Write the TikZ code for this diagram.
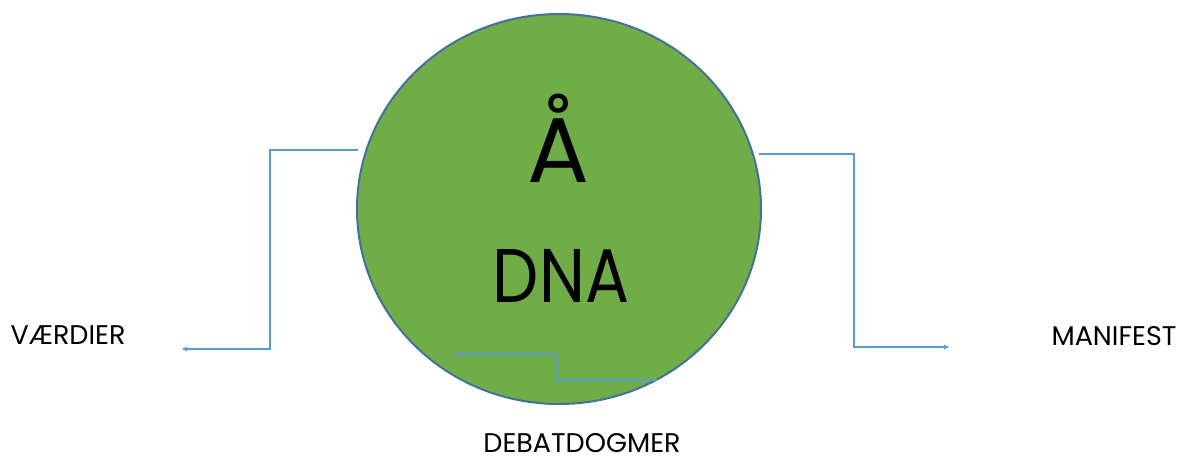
\documentclass[tikz,border=0pt]{standalone}
\usepackage{fontspec}
\setmainfont{Poppins}
\usetikzlibrary{shapes.geometric,arrows.meta}
\definecolor{dnagreen}{HTML}{70AD47}
\definecolor{dnaborder}{HTML}{41719C}
\definecolor{linkblue}{HTML}{5B9BD5}
\begin{document}
\begin{tikzpicture}[x=1pt,y=-1pt,
  link/.style={draw=linkblue, line width=1.2pt, -{Latex[length=6pt,width=5pt]}},
  lbl/.style={inner sep=0pt, anchor=base, font=\fontsize{27}{29}\selectfont}]
\useasboundingbox (0,0) rectangle (1177,455);
\node[ellipse, fill=dnagreen, draw=dnaborder, line width=2pt, minimum width=404, minimum height=390, inner sep=0pt] (dna) at (559,209){};
\node[inner sep=0pt, anchor=base, font=\fontsize{92}{96}\selectfont] (aa) at (558,182){Å};
\node[inner sep=0pt, anchor=base, font=\fontsize{76}{80}\selectfont] (dnatxt) at (561,302){\scalebox{0.86}[1]{DNA}};
\node[lbl] (vaerdier) at (68,344){VÆRDIER};
\node[lbl] (manifest) at (1114,345){MANIFEST};
\node[lbl] (dogmer) at (582,452){DEBATDOGMER};
\coordinate (l0) at (358,150);
\coordinate (l1) at (270,150);
\coordinate (l2) at (270,349);
\coordinate (l3) at (181,349);
\coordinate (r0) at (759,154);
\coordinate (r1) at (854,154);
\coordinate (r2) at (854,347);
\coordinate (r3) at (950,347);
\coordinate (b0) at (453,354);
\coordinate (b1) at (556,354);
\coordinate (b2) at (556,380);
\coordinate (b3) at (657,380);
\draw[link](l0) -- (l1) -- (l2) -- (l3);
\draw[link](r0) -- (r1) -- (r2) -- (r3);
\draw[link, {Latex[length=6pt,width=5pt]}-](b0) -- (b1) -- (b2) -- (b3);
\end{tikzpicture}
\end{document}
